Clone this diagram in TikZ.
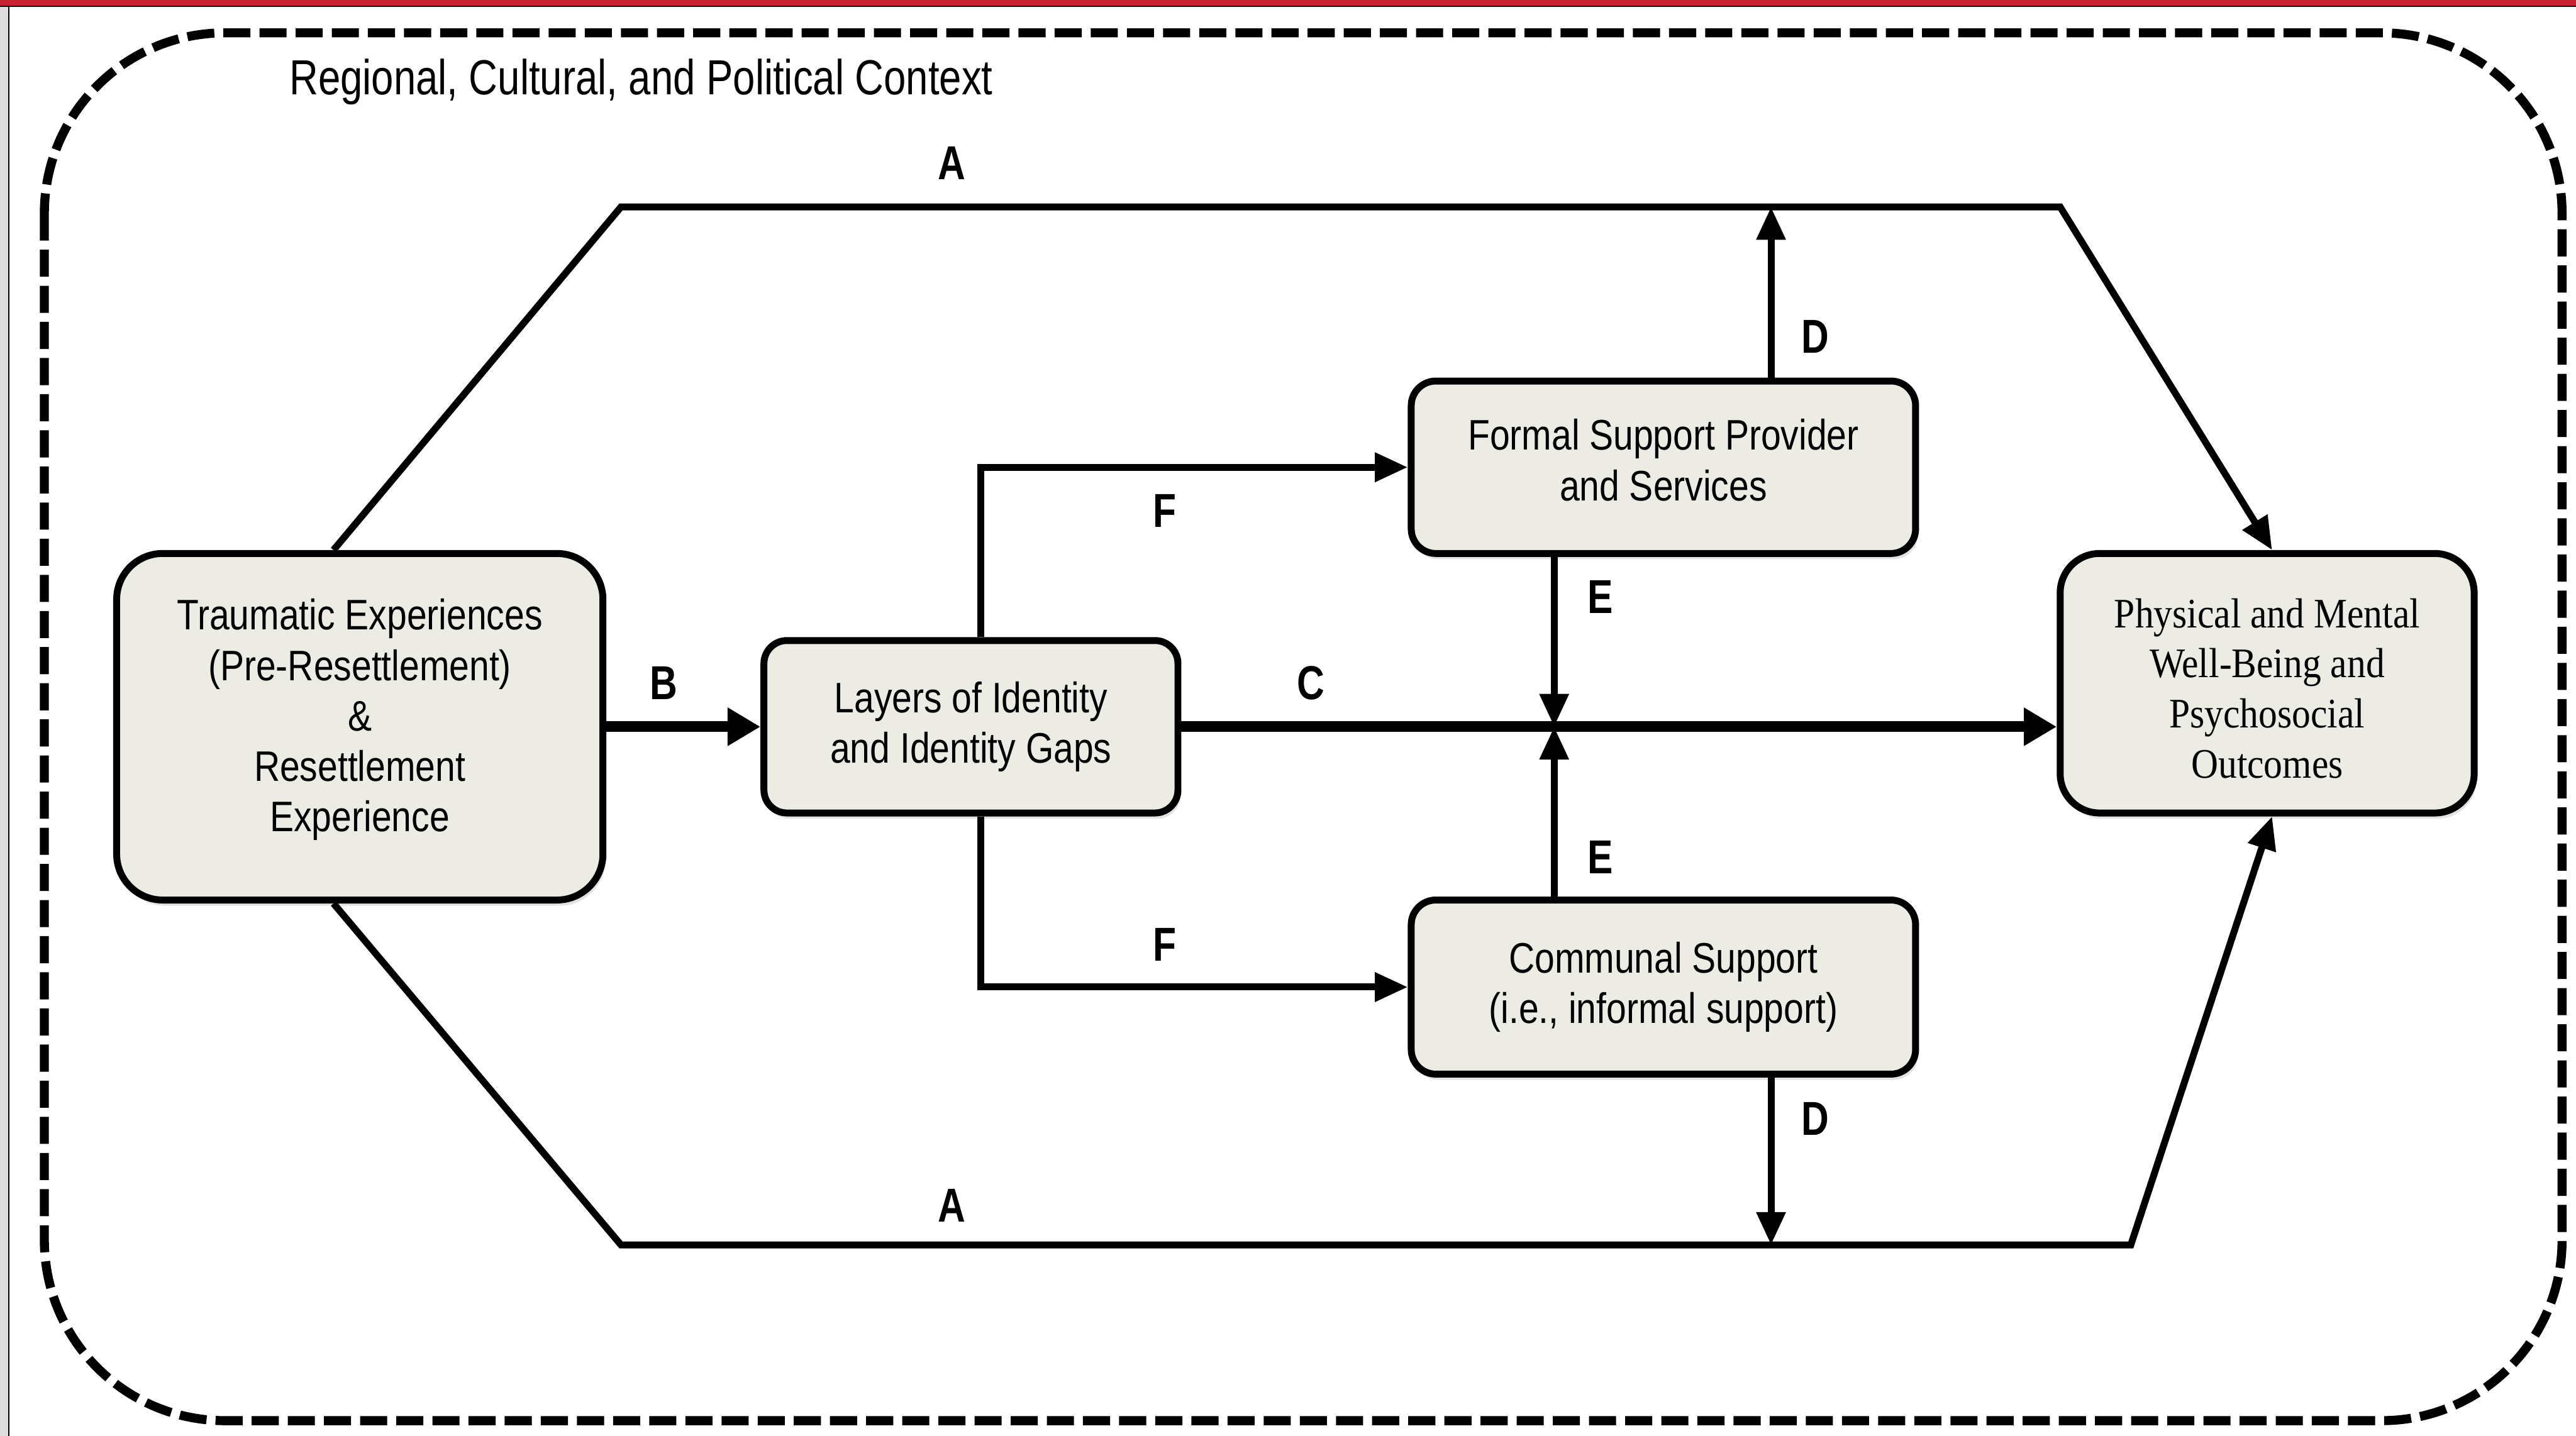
\documentclass[tikz,border=0pt]{standalone}
\usepackage{fontspec}
\setmainfont{Liberation Sans}
\newfontfamily\boxfont{Liberation Sans}[FakeStretch=0.84]
\newfontfamily\titlefont{Liberation Sans}[FakeStretch=0.81]
\newfontfamily\labfont{Liberation Sans}[FakeStretch=0.80]
\newfontfamily\serbox{Liberation Serif}[FakeStretch=0.89]
\usetikzlibrary{arrows.meta,shadows}
\definecolor{boxfill}{RGB}{237,236,228}
\definecolor{topred}{RGB}{198,33,50}
\definecolor{stripgray}{RGB}{222,222,222}
\begin{document}
\begin{tikzpicture}[x=1pt,y=-1pt,
  box/.style={draw=black, line width=4.2pt, fill=boxfill, inner sep=0pt, align=center,
    font=\boxfont\fontsize{26}{30.7}\selectfont,
    drop shadow={shadow xshift=1.5pt, shadow yshift=-3.5pt, opacity=0.22}},
  thinln/.style={line width=4.2pt, -{Triangle[length=20pt,width=17pt]}},
  thickln/.style={line width=6.5pt, -{Triangle[length=20pt,width=22pt]}},
  lab/.style={font=\labfont\bfseries\fontsize{29}{30}\selectfont, inner sep=0pt},
  ctxframe/.style={line width=5.5pt, dash pattern=on 16.5pt off 5.5pt, rounded corners=110pt}
]
\useasboundingbox (0,0) rectangle (1568,874.3);
\fill[white] (0,0) rectangle (1568,874.3);
% page edges
\fill[stripgray] (0,0) rectangle (5,874.3);
\draw[line width=0.8pt] (5.4,0) -- (5.4,874.3);
\fill[topred] (0,0) rectangle (1568,3.4);
\draw[line width=0.8pt] (0,3.8) -- (1568,3.8);

% context frame
\draw[ctxframe] (27,20) rectangle (1559.5,865);
\node[font=\titlefont\fontsize{30}{36}\selectfont, anchor=base west, inner sep=0pt] (ctx) at (176,57.5) {Regional, Cultural, and Political Context};

% boxes
\node[box, minimum width=296pt, minimum height=211pt, rounded corners=28pt] (trauma) at (219,442.5)
  {Traumatic Experiences\\(Pre-Resettlement)\\\&\\Resettlement\\Experience\\[-16.7pt]\mbox{}};
\node[box, minimum width=252pt, minimum height=105pt, rounded corners=14pt] (layers) at (591,442.5)
  {Layers of Identity\\and Identity Gaps};
\node[box, minimum width=307pt, minimum height=105pt, rounded corners=15pt] (formal) at (1012.5,284.5)
  {Formal Support Provider\\and Services\\[-21.7pt]\mbox{}};
\node[box, minimum width=307pt, minimum height=106pt, rounded corners=15pt] (communal) at (1012.5,601)
  {Communal Support\\(i.e., informal support)};
\node[box, font=\serbox\fontsize{25.6}{30.5}\selectfont, minimum width=252pt, minimum height=158pt, rounded corners=24pt] (phys) at (1380,416)
  {\mbox{}\\[-6.5pt]Physical and Mental\\Well-Being and\\Psychosocial\\Outcomes};

% corner coordinates
\coordinate (a1) at (378,126);
\coordinate (a2) at (1254,126);
\coordinate (a3) at (378,758);
\coordinate (a4) at (1297,758);
\coordinate (dtop) at (1078,126);
\coordinate (dbot) at (1078,758);
\coordinate (ecross) at (946,442.5);

% connectors
\draw[thinln] (trauma.north -| 203,0) -- (a1) -- (a2) -- (phys.north -| 1383,0);
\draw[thinln] (trauma.south -| 203,0) -- (a3) -- (a4) -- (phys.south -| 1383,0);
\draw[thickln] (trauma.east) -- (layers.west);
\draw[thickln] (layers.east) -- (layers.east -| phys.west);
\draw[thinln] (formal.north -| dtop) -- (dtop);
\draw[thinln] (communal.south -| dbot) -- (dbot);
\draw[thinln] (formal.south -| ecross) -- (ecross);
\draw[thinln] (communal.north -| ecross) -- (ecross);
\draw[thinln] (layers.north -| 597,0) |- (formal.west);
\draw[thinln] (layers.south -| 597,0) |- (communal.west);

% labels
\node[lab] (lA1) at (579.5,99.5) {A};
\node[lab] (lA2) at (579.5,734) {A};
\node[lab] (lB) at (404,416) {B};
\node[lab] (lC) at (798,416) {C};
\node[lab] (lD1) at (1105,205) {D};
\node[lab] (lD2) at (1105,681) {D};
\node[lab] (lE1) at (974,363.5) {E};
\node[lab] (lE2) at (974,522) {E};
\node[lab] (lF1) at (709,311) {F};
\node[lab] (lF2) at (709,575) {F};
\end{tikzpicture}
\end{document}
